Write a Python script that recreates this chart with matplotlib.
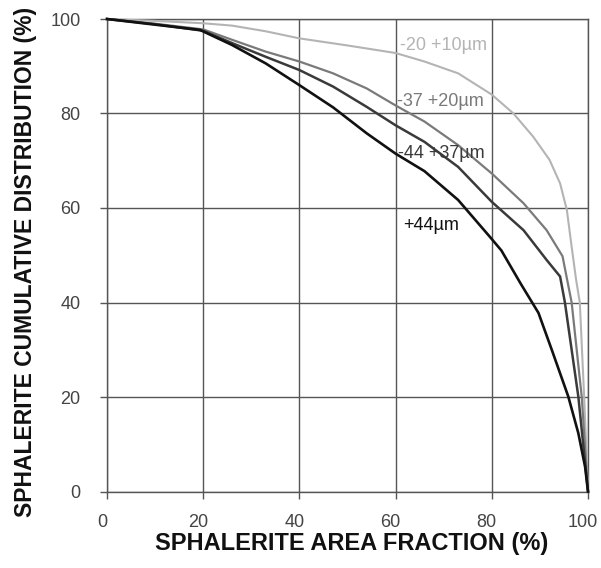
import matplotlib
matplotlib.use("Agg")
import matplotlib.pyplot as plt
import matplotlib.transforms as mtransforms

plt.rcParams['font.family'] = ['Liberation Sans', 'DejaVu Sans']

# Data
x_20_10 = [0, 10, 20, 26, 33, 40, 50, 60, 66, 73, 80, 84.5, 88.6, 92, 94.2, 95.6, 96.6, 97.5, 98.3, 99.2, 100]
y_20_10 = [100, 99.6, 99.1, 98.6, 97.4, 95.9, 94.4, 92.8, 91, 88.5, 84, 80, 75.1, 70.2, 65.2, 59.6, 51.8, 45, 40, 20, 0]

x_37_20 = [0, 10, 20, 26, 33, 40, 47, 54, 60, 66, 73, 80, 86.6, 91.4, 94.7, 96.6, 98.7, 100]
y_37_20 = [100, 99, 97.8, 95.6, 93.1, 91.0, 88.5, 85.3, 81.7, 78.3, 73.3, 67.3, 61, 55.3, 49.8, 40, 20, 0]

x_44_37 = [0, 10, 20, 26, 33, 40, 47, 54, 60, 66, 73, 80, 86.6, 91.4, 94.2, 95.2, 98, 100]
y_44_37 = [100, 98.9, 97.5, 94.9, 92.0, 89.2, 85.7, 81.4, 77.5, 74, 68.7, 61.3, 55.3, 49, 45.5, 40, 20, 0]

x_44 = [0, 10, 19.3, 26, 33, 40, 47, 54, 60, 66, 73, 79.6, 82, 86, 89.7, 92.5, 95.9, 98, 99.4, 100]
y_44 = [100, 98.8, 97.7, 94.5, 90.6, 86, 81.3, 75.8, 71.5, 67.8, 61.7, 53.9, 51, 44, 37.8, 29.9, 20.1, 12.3, 5.2, 0]

labels = ["-20 +10\u00b5m", "-37 +20\u00b5m", "-44 +37\u00b5m", "+44\u00b5m"]
label_x = [60.9, 60.2, 60.5, 61.5]
label_y = [94.3, 82.5, 71.6, 56.3]
colors = ["#b4b4b4", "#7a7a7a", "#3a3a3a", "#111111"]
widths = [1.5, 1.6, 1.8, 1.9]

ticks = [0, 20, 40, 60, 80, 100]

fig = plt.figure(figsize=(6.01, 5.68), dpi=100)
ax = fig.add_axes([107/601, 1 - 491.5/568, 481/601, 472.5/568])

series = [(x_20_10, y_20_10), (x_37_20, y_37_20), (x_44_37, y_44_37), (x_44, y_44)]
for (xs, ys), c, w in zip(series, colors, widths):
    ax.plot(xs, ys, color=c, lw=w, zorder=3, clip_on=False, solid_joinstyle='round')

for t, lx, ly, c in zip(labels, label_x, label_y, colors):
    ax.text(lx, ly, t, color=c, fontsize=13, ha='left', va='center', zorder=4)

ax.set_xlim(0, 100)
ax.set_ylim(0, 100)
ax.set_xticks(ticks)
ax.set_yticks(ticks)
ax.grid(True, color='#555555', lw=1.0, zorder=1)
for s in ax.spines.values():
    s.set_color('#555555')
    s.set_linewidth(1.0)
ax.tick_params(axis='both', direction='out', length=5, width=1.0, color='#555555',
               labelsize=13, labelcolor='#444444')
ax.tick_params(axis='y', pad=14)
ax.tick_params(axis='x', pad=11)

offset = mtransforms.ScaledTranslation(-5/100, 0, fig.dpi_scale_trans)
for lab in ax.get_xticklabels():
    lab.set_transform(lab.get_transform() + offset)

ax.set_xlabel("SPHALERITE AREA FRACTION (%)", fontsize=17, fontweight='bold', color='#111111')
ax.set_ylabel("SPHALERITE CUMULATIVE DISTRIBUTION (%)", fontsize=16.5, fontweight='bold', color='#111111')
ax.xaxis.set_label_coords(0.509, -0.111)
ax.yaxis.set_label_coords(-0.170, 0.486)
ax.xaxis.label.set_va('center')
ax.yaxis.label.set_va('center')

fig.savefig("out.png", dpi=100)
